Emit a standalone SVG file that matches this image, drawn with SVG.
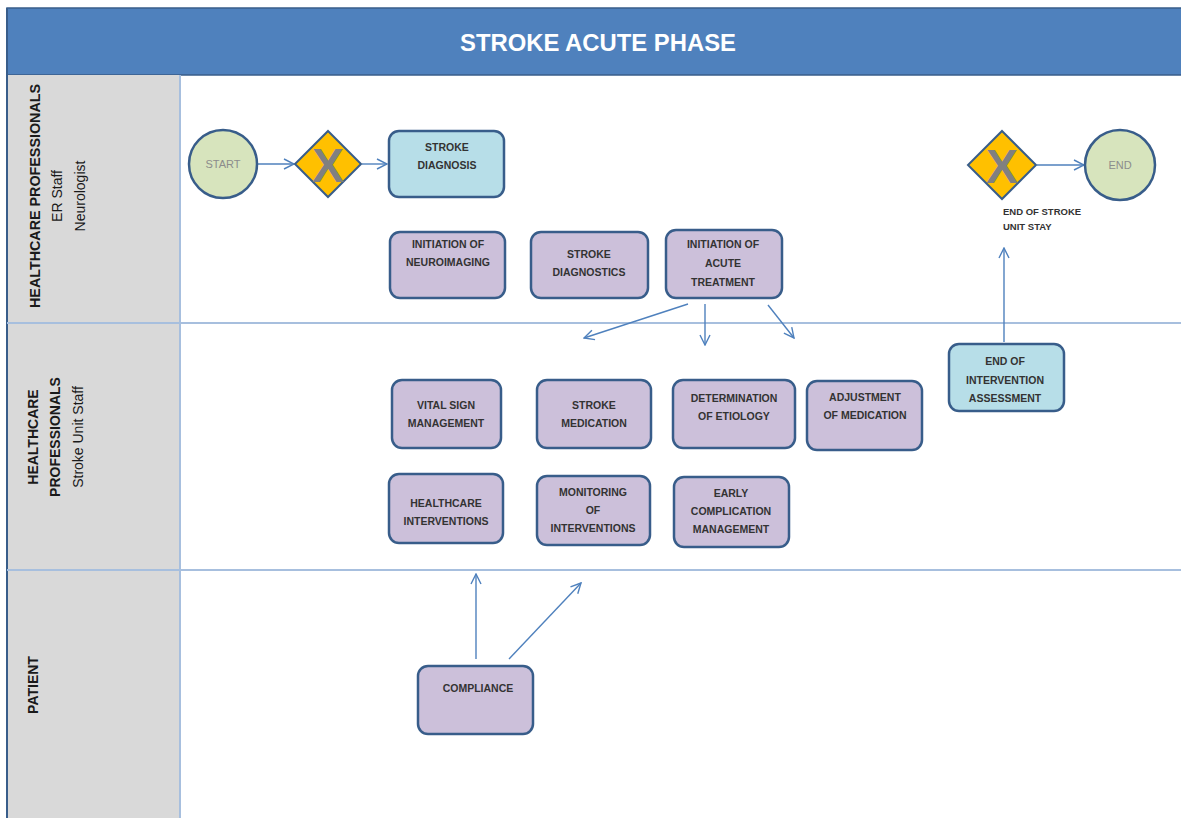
<svg xmlns="http://www.w3.org/2000/svg" width="1181" height="818" viewBox="0 0 1181 818">
  <style>
    .lane-col { fill: #D9D9D9; }
    .divider { stroke: #A7BFDE; stroke-width: 2; fill: none; }
    .lane-label { font-family: "Liberation Sans", Arial, sans-serif; font-size: 14px; font-weight: bold; fill: #1a1a1a; text-anchor: middle; }
    .lane-sub { font-family: "Liberation Sans", Arial, sans-serif; font-size: 14px; fill: #1a1a1a; text-anchor: middle; }
    .task { stroke: #385D8A; stroke-width: 2.5; }
    .purple { fill: #CCC0DA; }
    .blue { fill: #B7DEE8; }
    .event { fill: #D7E4BD; stroke: #385D8A; stroke-width: 2.5; }
    .gate { fill: #FFC000; stroke: #385D8A; stroke-width: 2; }
    .gate-x { font-family: "Liberation Sans", Arial, sans-serif; font-size: 48px; font-weight: bold; fill: #808080; text-anchor: middle; }
    .t { font-family: "Liberation Sans", Arial, sans-serif; font-size: 10.5px; font-weight: bold; fill: #333333; text-anchor: middle; }
    .ev-t { font-family: "Liberation Sans", Arial, sans-serif; font-size: 11px; fill: #8C8C8C; text-anchor: middle; }
    .note { font-family: "Liberation Sans", Arial, sans-serif; font-size: 9.5px; font-weight: bold; fill: #333333; }
    .flow { stroke: #4F81BD; stroke-width: 1.4; fill: none; marker-end: url(#arrow); }
  </style>
  <defs>
    <marker id="arrow" viewBox="0 0 12 12" refX="11" refY="6" markerWidth="12" markerHeight="12" markerUnits="userSpaceOnUse" orient="auto">
      <path d="M1,1 L11,6 L1,11" fill="none" stroke="#4F81BD" stroke-width="1.4"/>
    </marker>
  </defs>

  <rect x="0" y="0" width="1181" height="818" fill="#FFFFFF"/>

  <!-- pool header -->
  <g id="header">
    <rect x="7" y="8" width="1180" height="67" fill="#4F81BD" stroke="#385D8A" stroke-width="1.5"/>
    <text x="598" y="51" font-family="Liberation Sans, Arial, sans-serif" font-size="24" font-weight="bold" fill="#FFFFFF" text-anchor="middle" textLength="276" lengthAdjust="spacingAndGlyphs">STROKE ACUTE PHASE</text>
  </g>

  <!-- lanes -->
  <g id="lanes">
    <rect class="lane-col" x="7" y="75" width="173" height="743"/>
    <line x1="7" y1="8" x2="7" y2="818" stroke="#385D8A" stroke-width="2"/>
    <line class="divider" x1="180" y1="75" x2="180" y2="818"/>
    <line class="divider" x1="7" y1="323" x2="1181" y2="323"/>
    <line class="divider" x1="7" y1="570" x2="1181" y2="570"/>
  </g>

  <g id="lane-er">
    <text class="lane-label" transform="translate(40,196) rotate(-90)" textLength="224" lengthAdjust="spacingAndGlyphs">HEALTHCARE PROFESSIONALS</text>
    <text class="lane-sub" transform="translate(62,196) rotate(-90)">ER Staff</text>
    <text class="lane-sub" transform="translate(85,196) rotate(-90)">Neurologist</text>
  </g>
  <g id="lane-su">
    <text class="lane-label" transform="translate(38,437) rotate(-90)">HEALTHCARE</text>
    <text class="lane-label" transform="translate(60,437) rotate(-90)">PROFESSIONALS</text>
    <text class="lane-sub" transform="translate(83,437) rotate(-90)">Stroke Unit Staff</text>
  </g>
  <g id="lane-patient">
    <text class="lane-label" transform="translate(38,685) rotate(-90)">PATIENT</text>
  </g>

  <!-- connectors -->
  <g id="connectors">
    <line class="flow" x1="257" y1="164" x2="294" y2="164"/>
    <line class="flow" x1="362" y1="164" x2="387" y2="164"/>
    <line class="flow" x1="1037" y1="165" x2="1084" y2="165"/>
    <line class="flow" x1="688" y1="304" x2="584" y2="338"/>
    <line class="flow" x1="705" y1="304" x2="705" y2="345"/>
    <line class="flow" x1="768" y1="305" x2="794" y2="338"/>
    <line class="flow" x1="1004" y1="342" x2="1004" y2="248"/>
    <line class="flow" x1="476" y1="659" x2="476" y2="574"/>
    <line class="flow" x1="509" y1="659" x2="581" y2="583"/>
  </g>

  <!-- ER lane nodes -->
  <g id="start">
    <circle class="event" cx="223" cy="164" r="34"/>
    <text class="ev-t" x="223" y="168">START</text>
  </g>
  <g id="gateway-1">
    <polygon class="gate" points="328,131 361,164 328,197 295,164"/>
    <text class="gate-x" x="328" y="182">X</text>
  </g>
  <g id="stroke-diagnosis">
    <rect class="task blue" x="389" y="131" width="115" height="66" rx="10"/>
    <text class="t" x="447" y="151">STROKE</text>
    <text class="t" x="447" y="169">DIAGNOSIS</text>
  </g>
  <g id="neuroimaging">
    <rect class="task purple" x="390" y="232" width="115" height="66" rx="10"/>
    <text class="t" x="448" y="248">INITIATION OF</text>
    <text class="t" x="448" y="266">NEUROIMAGING</text>
  </g>
  <g id="stroke-diagnostics">
    <rect class="task purple" x="531" y="232" width="117" height="66" rx="10"/>
    <text class="t" x="589" y="258">STROKE</text>
    <text class="t" x="589" y="276">DIAGNOSTICS</text>
  </g>
  <g id="acute-treatment">
    <rect class="task purple" x="666" y="230" width="116" height="68" rx="10"/>
    <text class="t" x="723" y="248">INITIATION OF</text>
    <text class="t" x="723" y="267">ACUTE</text>
    <text class="t" x="723" y="286">TREATMENT</text>
  </g>
  <g id="gateway-2">
    <polygon class="gate" points="1002,131 1036,165 1002,199 968,165"/>
    <text class="gate-x" x="1002" y="183">X</text>
    <text class="note" x="1003" y="215">END OF STROKE</text>
    <text class="note" x="1003" y="230">UNIT STAY</text>
  </g>
  <g id="end">
    <circle class="event" cx="1120" cy="165" r="35"/>
    <text class="ev-t" x="1120" y="169">END</text>
  </g>

  <!-- stroke unit lane nodes -->
  <g id="vital-sign">
    <rect class="task purple" x="392" y="380" width="109" height="68" rx="10"/>
    <text class="t" x="446" y="409">VITAL SIGN</text>
    <text class="t" x="446" y="427">MANAGEMENT</text>
  </g>
  <g id="stroke-medication">
    <rect class="task purple" x="537" y="380" width="114" height="68" rx="10"/>
    <text class="t" x="594" y="409">STROKE</text>
    <text class="t" x="594" y="427">MEDICATION</text>
  </g>
  <g id="etiology">
    <rect class="task purple" x="673" y="380" width="122" height="68" rx="10"/>
    <text class="t" x="734" y="402">DETERMINATION</text>
    <text class="t" x="734" y="420">OF ETIOLOGY</text>
  </g>
  <g id="adjustment">
    <rect class="task purple" x="807" y="381" width="115" height="69" rx="10"/>
    <text class="t" x="865" y="401">ADJUSTMENT</text>
    <text class="t" x="865" y="419">OF MEDICATION</text>
  </g>
  <g id="interventions">
    <rect class="task purple" x="389" y="474" width="114" height="69" rx="10"/>
    <text class="t" x="446" y="507">HEALTHCARE</text>
    <text class="t" x="446" y="525">INTERVENTIONS</text>
  </g>
  <g id="monitoring">
    <rect class="task purple" x="537" y="476" width="113" height="69" rx="10"/>
    <text class="t" x="593" y="496">MONITORING</text>
    <text class="t" x="593" y="514">OF</text>
    <text class="t" x="593" y="532">INTERVENTIONS</text>
  </g>
  <g id="complications">
    <rect class="task purple" x="674" y="477" width="115" height="70" rx="10"/>
    <text class="t" x="731" y="497">EARLY</text>
    <text class="t" x="731" y="515">COMPLICATION</text>
    <text class="t" x="731" y="533">MANAGEMENT</text>
  </g>
  <g id="intervention-assessment">
    <rect class="task blue" x="949" y="344" width="115" height="67" rx="10"/>
    <text class="t" x="1005" y="365">END OF</text>
    <text class="t" x="1005" y="384">INTERVENTION</text>
    <text class="t" x="1005" y="402">ASSESSMENT</text>
  </g>

  <!-- patient lane node -->
  <g id="compliance">
    <rect class="task purple" x="418" y="666" width="115" height="68" rx="10"/>
    <text class="t" x="478" y="692">COMPLIANCE</text>
  </g>
</svg>
